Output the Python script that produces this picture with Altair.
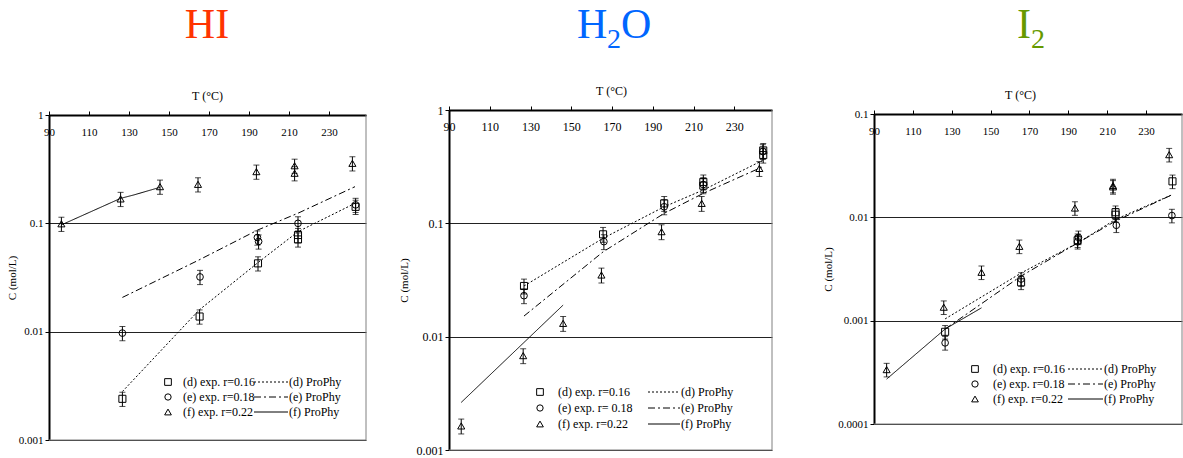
import altair as alt
import pandas as pd

FONT = "Liberation Serif"
T_TICKS = [90, 110, 130, 150, 170, 190, 210, 230]
X_DOMAIN = [90, 248.5]
ERR = 0.15

# ---------------- HI ----------------
HI_d_T = [126.7, 165.3, 194.5, 214.5, 214.5, 243.3]
HI_d_C = [0.0024, 0.0138, 0.0427, 0.078, 0.071, 0.142]
HI_e_T = [126.7, 165.5, 194.2, 194.8, 214.5, 243.3]
HI_e_C = [0.0097, 0.032, 0.074, 0.068, 0.100, 0.148]
HI_f_T = [96.2, 125.8, 145.5, 164.5, 193.7, 212.8, 212.8, 241.7]
HI_f_C = [0.099, 0.168, 0.218, 0.229, 0.30, 0.34, 0.29, 0.358]
HI_dm_T = [126.7, 165.0, 194.5, 214.5, 243.0]
HI_dm_C = [0.0028, 0.0158, 0.0434, 0.0838, 0.153]
HI_em_T = [126.7, 165.0, 194.5, 214.5, 243.0]
HI_em_C = [0.0207, 0.0459, 0.087, 0.124, 0.218]
HI_fm_T = [96.2, 125.8, 132.5, 145.5]
HI_fm_C = [0.0967, 0.17, 0.183, 0.215]

# ---------------- H2O ----------------
H2O_d_T = [126.8, 165.6, 195.6, 214.8, 214.8, 244.2, 244.2]
H2O_d_C = [0.028, 0.080, 0.150, 0.215, 0.232, 0.40, 0.44]
H2O_e_T = [126.8, 166.0, 195.6, 214.8, 244.0]
H2O_e_C = [0.023, 0.069, 0.14, 0.22, 0.43]
H2O_f_T = [96.0, 126.4, 146.0, 164.8, 194.3, 214.0, 242.3]
H2O_f_C = [0.00163, 0.0068, 0.0131, 0.035, 0.0844, 0.15, 0.305]
H2O_dm_T = [126.8, 165.6, 195.6, 214.8, 244.0]
H2O_dm_C = [0.028, 0.0738, 0.14, 0.197, 0.36]
H2O_em_T = [126.8, 165.6, 195.6, 214.8, 244.0]
H2O_em_C = [0.0152, 0.056, 0.1225, 0.184, 0.316]
H2O_fm_T = [96.0, 146.0]
H2O_fm_C = [0.00263, 0.019]

# ---------------- I2 ----------------
I2_d_T = [126.6, 165.7, 194.8, 214.3, 214.3, 243.6]
I2_d_C = [0.00078, 0.00235, 0.0060, 0.0106, 0.0112, 0.0223]
I2_e_T = [126.6, 165.7, 194.8, 195.2, 214.7, 243.3]
I2_e_C = [0.00061, 0.00253, 0.0058, 0.0064, 0.00838, 0.0104]
I2_f_T = [96.5, 125.9, 145.3, 164.8, 193.4, 213.0, 213.0, 241.9]
I2_f_C = [0.000336, 0.00135, 0.00294, 0.00524, 0.0123, 0.0197, 0.0203, 0.0404]
I2_dm_T = [126.6, 165.7, 194.8, 214.3, 243.6]
I2_dm_C = [0.00104, 0.00289, 0.00565, 0.00955, 0.0166]
I2_em_T = [126.6, 165.7, 194.8, 214.3, 243.6]
I2_em_C = [0.00083, 0.0027, 0.00565, 0.0092, 0.0166]
I2_fm_T = [96.5, 126.6, 145.3]
I2_fm_C = [0.000272, 0.00083, 0.00133]

SHAPES = {"d": "square", "e": "circle", "f": "triangle-up"}
SIZES = {"d": 50, "e": 45, "f": 50}
DASHES = {"d": [2, 2], "e": [7, 3, 2, 3], "f": [1, 0]}


def make_panel(p):
    w, h, o = p["w"], p["h"], p["o"]
    xs = alt.Scale(domain=X_DOMAIN, nice=False, zero=False)
    ys = alt.Scale(type="log", domain=p["ydom"], nice=False, range=[o + h, o])
    xaxis = alt.Axis(orient="top", offset=-o, values=T_TICKS, title="T (°C)", titleFont=FONT,
                     titleFontSize=12, titleFontWeight="normal", titleColor="black",
                     titleX=p["tx"], titleY=-16, titleBaseline="alphabetic",
                     labelFont=FONT, labelFontSize=p["lfs"], labelColor="black",
                     labelBaseline="top", labelPadding=-15, labelFlush=False,
                     labelOverlap=False, domainColor="black", domainWidth=2,
                     tickColor="black", tickSize=4, tickWidth=1, grid=False)
    yaxis = alt.Axis(orient="left", values=p["yticks"], format="~g", title="C (mol/L)",
                     titleFont=FONT, titleFontSize=11, titleFontWeight="normal",
                     titleColor="black", titleX=p["ytx"], titleY=o + h / 2,
                     titleAlign="center", titleBaseline="middle",
                     labelFont=FONT, labelFontSize=p["lfs"], labelColor="black",
                     labelPadding=2, labelFlush=False, labelOverlap=False,
                     domainColor="black", domainWidth=2, tickColor="black",
                     tickSize=4, tickWidth=1, grid=True, gridColor="#222222",
                     gridWidth=1)

    def X(field="T"):
        return alt.X(f"{field}:Q", scale=xs, axis=xaxis)

    def Y(field="C"):
        return alt.Y(f"{field}:Q", scale=ys, axis=yaxis)

    dummy = alt.Data(values=[{}])
    layers = []
    # thin grey frame on the right and bottom sides
    layers.append(alt.Chart(dummy).mark_rule(color="#808080", strokeWidth=1).encode(
        x=alt.value(w), y=alt.value(o), y2=alt.value(o + h)))
    layers.append(alt.Chart(dummy).mark_rule(color="#808080", strokeWidth=1).encode(
        x=alt.value(0), x2=alt.value(w), y=alt.value(o + h)))
    # model lines
    for s in ["d", "e", "f"]:
        df = pd.DataFrame({"T": p[s + "m_T"], "C": p[s + "m_C"]})
        layers.append(alt.Chart(df).mark_line(color="black", strokeWidth=1,
                                              strokeDash=DASHES[s]).encode(x=X(), y=Y()))
    # experimental points with error bars
    for s in ["d", "e", "f"]:
        df = pd.DataFrame({"T": p[s + "_T"], "C": p[s + "_C"]})
        df["lo"] = df["C"] * (1 - ERR)
        df["hi"] = df["C"] * (1 + ERR)
        base = alt.Chart(df)
        layers.append(base.mark_rule(color="black", strokeWidth=1).encode(
            x=X(), y=Y("lo"), y2="hi:Q"))
        layers.append(base.transform_fold(["lo", "hi"], as_=["k", "C"]).mark_tick(
            orient="horizontal", color="black", size=6, thickness=1).encode(x=X(), y=Y()))
        layers.append(base.mark_point(shape=SHAPES[s], size=SIZES[s], filled=False,
                                      color="black", strokeWidth=1, opacity=1).encode(
            x=X(), y=Y()))
    # legend (drawn as marks)
    lg = p["leg"]
    for i, s in enumerate(["d", "e", "f"]):
        yy = o + lg["rows"][i]
        layers.append(alt.Chart(dummy).mark_point(shape=SHAPES[s], size=SIZES[s] - 5,
                                                   filled=False, color="black",
                                                   strokeWidth=1, opacity=1).encode(
            x=alt.value(lg["mx"]), y=alt.value(yy)))
        layers.append(alt.Chart(dummy).mark_text(text=p["exp_labels"][i], font=FONT,
                                                  fontSize=12, align="left",
                                                  baseline="middle", color="black").encode(
            x=alt.value(lg["tx"]), y=alt.value(yy)))
        layers.append(alt.Chart(dummy).mark_rule(color="black", strokeWidth=1,
                                                  strokeDash=DASHES[s]).encode(
            x=alt.value(lg["l0"]), x2=alt.value(lg["l1"]), y=alt.value(yy)))
        layers.append(alt.Chart(dummy).mark_text(text=p["mod_labels"][i], font=FONT,
                                                  fontSize=12, align="left",
                                                  baseline="middle", color="black").encode(
            x=alt.value(lg["px"]), y=alt.value(yy)))
    # big coloured title (with subscript parts)
    for txt, xx, dy, fs, al in p["title"]:
        layers.append(alt.Chart(dummy).mark_text(text=txt, font=FONT, fontSize=fs,
                                                  align=al, baseline="alphabetic",
                                                  color=p["color"]).encode(
            x=alt.value(xx), y=alt.value(TITLE_BASE + dy)))
    if p.get("spacer") is not None:
        layers.append(alt.Chart(dummy).mark_rule(strokeOpacity=0, opacity=0).encode(
            x=alt.value(p["spacer"]), y=alt.value(0), y2=alt.value(2)))
    return alt.layer(*layers).properties(width=w, height=o + h)


TITLE_BASE = -72
exp_std = ["(d) exp. r=0.16", "(e) exp. r=0.18", "(f) exp. r=0.22"]
mod_std = ["(d) ProPhy", "(e) ProPhy", "(f) ProPhy"]

P1 = dict(w=317, h=325, o=5, ydom=[0.001, 1], yticks=[0.001, 0.01, 0.1, 1], lfs=11,
          tx=158, ytx=-37, color="#FF3300",
          title=[("HI", 158, 0, 42, "center")],
          d_T=HI_d_T, d_C=HI_d_C, e_T=HI_e_T, e_C=HI_e_C, f_T=HI_f_T, f_C=HI_f_C,
          dm_T=HI_dm_T, dm_C=HI_dm_C, em_T=HI_em_T, em_C=HI_em_C, fm_T=HI_fm_T, fm_C=HI_fm_C,
          exp_labels=exp_std, mod_labels=mod_std,
          leg=dict(mx=119, tx=134, l0=205, l1=239, px=240, rows=[267, 282, 297]))
P2 = dict(w=323, h=340, o=0, ydom=[0.001, 1], yticks=[0.001, 0.01, 0.1, 1], lfs=12,
          tx=162, ytx=-45, color="#0066FF",
          title=[("H", 128, 0, 42, "left"), ("2", 158, 10, 28, "left"), ("O", 172, 0, 42, "left")],
          d_T=H2O_d_T, d_C=H2O_d_C, e_T=H2O_e_T, e_C=H2O_e_C, f_T=H2O_f_T, f_C=H2O_f_C,
          dm_T=H2O_dm_T, dm_C=H2O_dm_C, em_T=H2O_em_T, em_C=H2O_em_C, fm_T=H2O_fm_T, fm_C=H2O_fm_C,
          exp_labels=["(d) exp. r=0.16", "(e) exp. r= 0.18", "(f) exp. r=0.22"], mod_labels=mod_std,
          leg=dict(mx=91, tx=109, l0=199, l1=231, px=232, rows=[282, 298, 314]),
          spacer=342)
P3 = dict(w=308, h=310, o=4, ydom=[0.0001, 0.1], yticks=[0.0001, 0.001, 0.01, 0.1], lfs=11,
          tx=146, ytx=-46, color="#669900",
          title=[("I", 143, 0, 42, "left"), ("2", 157, 10, 28, "left")],
          d_T=I2_d_T, d_C=I2_d_C, e_T=I2_e_T, e_C=I2_e_C, f_T=I2_f_T, f_C=I2_f_C,
          dm_T=I2_dm_T, dm_C=I2_dm_C, em_T=I2_em_T, em_C=I2_em_C, fm_T=I2_fm_T, fm_C=I2_fm_C,
          exp_labels=exp_std, mod_labels=mod_std,
          leg=dict(mx=101, tx=119, l0=194, l1=229, px=230, rows=[255, 270, 285]))

chart = alt.hconcat(make_panel(P1), make_panel(P2), make_panel(P3), spacing=31).configure(
    padding={"left": 6, "top": 4, "right": 0, "bottom": 0},
    background="white",
).configure_view(strokeOpacity=0)

chart.save("out.html", embed_options={"renderer": "svg", "actions": False})
